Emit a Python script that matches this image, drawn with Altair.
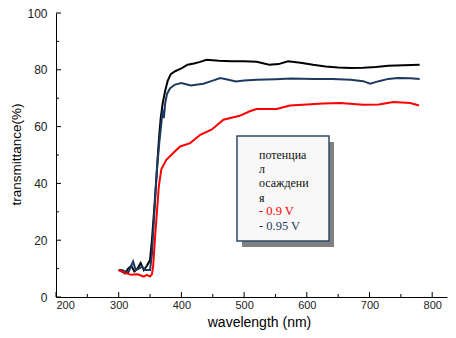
import altair as alt
import pandas as pd

# ---- data ----
wl_black = [300, 305, 310, 315, 320, 325, 330, 335, 340, 345, 350, 353, 357, 361, 364, 367, 370, 374, 378, 383,
            390, 400, 410, 420, 430, 440, 460, 480, 500, 520, 540, 555, 570, 590, 610, 630, 650, 670, 690, 710,
            730, 755, 780]
t_black = [9.5, 9, 8.3, 10, 11, 9, 10, 12, 9.5, 11, 13, 20, 32, 45, 55, 63, 68, 72.5, 76, 78.5,
           79.5, 80.5, 81.8, 82.2, 82.8, 83.5, 83.2, 83, 83, 82.8, 81.8, 82, 83, 82.5, 81.8, 81.2, 80.8, 80.6, 80.7, 81,
           81.4, 81.6, 81.8]

wl_blue = [300, 305, 310, 315, 320, 323, 327, 332, 337, 342, 350, 353, 357, 361, 365, 368, 370, 372, 374, 377,
           382, 390, 400, 415, 435, 450, 462, 475, 487, 500, 520, 550, 575, 610, 640, 670, 690, 701, 715, 730,
           745, 765, 780]
t_blue = [9.5, 9.5, 9, 8.5, 11, 12.5, 9.5, 10, 10.7, 9.5, 9.5, 15, 30, 45, 55, 61, 66, 63, 68, 71.5,
          73.5, 74.8, 75.3, 74.5, 75.1, 76.2, 77.1, 76.5, 75.9, 76.2, 76.5, 76.7, 76.9, 76.8, 76.8, 76.5, 76, 75.1, 76, 76.8,
          77.1, 77, 76.8]

wl_red = [300, 305, 310, 320, 330, 340, 345, 350, 353, 355, 358, 361, 364, 368, 376, 387, 398, 414, 430, 448,
          467, 493, 509, 520, 552, 573, 600, 626, 653, 690, 715, 738, 765, 779]
t_red = [9.5, 9, 8.5, 7.8, 8, 7.2, 7.8, 7.2, 8, 11, 21, 30, 39, 45, 48.3, 50.7, 53, 54.2, 57.1, 58.9,
         62.4, 63.8, 65.4, 66.2, 66.2, 67.4, 67.8, 68.1, 68.3, 67.7, 67.8, 68.7, 68.3, 67.4]

x_major = [200, 300, 400, 500, 600, 700, 800]
x_minor = [250, 350, 450, 550, 650, 750]
y_major = [0, 20, 40, 60, 80, 100]
y_minor = [10, 30, 50, 70, 90]

legend_title = ["потенциа", "л", "осаждени", "я"]
legend_items = ["- 0.9 V", "- 0.95 V"]
legend_colors = ["#ff0000", "#1f3a60"]

# ---- frames ----
rows = []
for name, xs_, ys_ in [("black", wl_black, t_black), ("blue", wl_blue, t_blue), ("red", wl_red, t_red)]:
    for a, b in zip(xs_, ys_):
        rows.append({"series": name, "wl": a, "t": b})
df = pd.DataFrame(rows)

W, H = 391, 284
xs = alt.Scale(domain=[200, 200 + W / 0.627], nice=False, zero=False)
ys = alt.Scale(domain=[0, 100], nice=False)

lines = alt.Chart(df).mark_line(strokeWidth=2).encode(
    x=alt.X("wl:Q", scale=xs, axis=alt.Axis(
        title="wavelength (nm)", values=x_major, ticks=False, grid=False,
        domainColor="black", domainWidth=1, labelPadding=2, labelFontSize=11,
        labelFont="Liberation Sans", labelColor="#222", titleFont="Liberation Sans",
        titleFontSize=14, titleFontWeight="normal", titleColor="black", titleX=203, titleY=18)),
    y=alt.Y("t:Q", scale=ys, axis=alt.Axis(
        title="transmittance(%)", values=y_major, ticks=False, grid=False,
        domainColor="black", domainWidth=1, labelPadding=9, labelFontSize=12,
        labelFont="Liberation Sans", labelColor="#222", titleFont="Liberation Sans",
        titleFontSize=13.5, titleFontWeight="normal", titleColor="black", titleX=-33, titleY=141)),
    color=alt.Color("series:N", scale=alt.Scale(domain=["black", "blue", "red"],
                                                 range=["#000000", "#1f3a60", "#ff0000"]), legend=None),
    detail="series:N",
)

yt_major = alt.Chart(pd.DataFrame({"v": y_major})).mark_rule(color="black", strokeWidth=1).encode(
    y=alt.Y("v:Q", scale=ys), x=alt.value(0), x2=alt.value(5))
yt_minor = alt.Chart(pd.DataFrame({"v": y_minor})).mark_rule(color="black", strokeWidth=1).encode(
    y=alt.Y("v:Q", scale=ys), x=alt.value(0), x2=alt.value(3))
xt_major = alt.Chart(pd.DataFrame({"v": x_major})).mark_rule(color="black", strokeWidth=1).encode(
    x=alt.X("v:Q", scale=xs), y=alt.value(H), y2=alt.value(H - 5))
xt_minor = alt.Chart(pd.DataFrame({"v": x_minor})).mark_rule(color="black", strokeWidth=1).encode(
    x=alt.X("v:Q", scale=xs), y=alt.value(H), y2=alt.value(H - 3))

# legend box (annotation)
bx0, by0, bx1, by1 = 181, 123, 273, 228
shadow = alt.Chart(pd.DataFrame({"a": [0]})).mark_rect(color="#808080").encode(
    x=alt.value(bx0 + 5), x2=alt.value(bx1 + 5), y=alt.value(by0 + 6), y2=alt.value(by1 + 6))
box = alt.Chart(pd.DataFrame({"a": [0]})).mark_rect(fill="#f8f8f8", stroke="#2e4868", strokeWidth=1.5).encode(
    x=alt.value(bx0), x2=alt.value(bx1), y=alt.value(by0), y2=alt.value(by1))

ttl = alt.Chart(pd.DataFrame({"a": [0]})).mark_text(
    align="left", baseline="alphabetic", font="Liberation Serif", fontSize=12, lineHeight=14.2,
    color="#111").encode(x=alt.value(203), y=alt.value(146), text=alt.value(legend_title))
it1 = alt.Chart(pd.DataFrame({"a": [0]})).mark_text(
    align="left", baseline="alphabetic", font="Liberation Serif", fontSize=12.5,
    color=legend_colors[0]).encode(x=alt.value(203), y=alt.value(202), text=alt.value(legend_items[0]))
it2 = alt.Chart(pd.DataFrame({"a": [0]})).mark_text(
    align="left", baseline="alphabetic", font="Liberation Serif", fontSize=12.5,
    color=legend_colors[1]).encode(x=alt.value(203), y=alt.value(217), text=alt.value(legend_items[1]))

chart = alt.layer(lines, yt_major, yt_minor, xt_major, xt_minor, shadow, box, ttl, it1, it2).properties(
    width=W, height=H,
    autosize=alt.AutoSizeParams(type="none"),
    padding={"left": 48, "top": 5, "right": 1, "bottom": 33},
    background="white",
).configure_view(stroke=None)

chart.save("out.html", embed_options={"renderer": "svg", "actions": False})
